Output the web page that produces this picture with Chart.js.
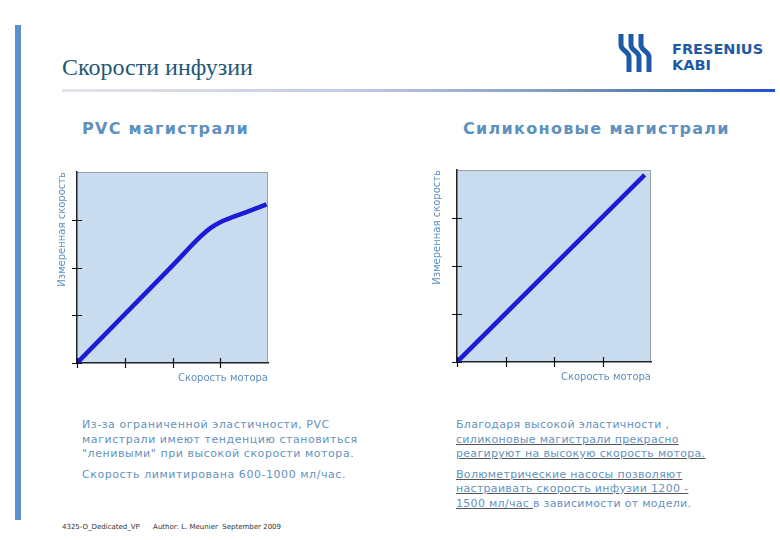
<!DOCTYPE html>
<html>
<head>
<meta charset="utf-8">
<script src="https://cdn.jsdelivr.net/npm/chart.js@4/dist/chart.umd.min.js"></script>
<style>
  body { margin: 0; width: 780px; height: 540px; background: #fff; position: relative; overflow: hidden; font-family: "DejaVu Sans", Verdana, sans-serif; }
  .abs { position: absolute; }
  #bar { left: 15px; top: 25px; width: 6px; height: 495px; background: #5a8fd0; }
  #title { left: 62px; top: 54px; font-family: "Liberation Serif", serif; font-size: 24px; color: #1f5878; }
  #rule { left: 62px; top: 89px; width: 713px; height: 3px;
          background: linear-gradient(to right, #e2e5ea, #c6cae2 40%, #8aa3c6 65%, #4a7aac 85%, #1f4fd8); }
  #logoText { left: 672px; top: 41px; font-family: "DejaVu Sans", sans-serif; font-weight: bold; font-size: 14.5px; line-height: 16px; color: #1e5aa8; letter-spacing: 0; }
  .head { font-weight: bold; font-size: 16px; color: #5e90c0; letter-spacing: 1.3px; top: 119px; }
  .txt { font-size: 11px; line-height: 14.5px; color: #6592bd; white-space: nowrap; }
  .txt p { margin: 0 0 6px 0; }
  .u { text-decoration: underline; text-decoration-color: #555; }
  #foot { left: 62px; top: 523px; font-size: 7px; color: #333; }
  canvas { position: absolute; }
</style>
</head>
<body>
<div id="bar" class="abs"></div>
<div id="title" class="abs">Скорости инфузии</div>
<div id="rule" class="abs"></div>

<svg class="abs" style="left:617px;top:34px" width="40" height="38" viewBox="0 0 40 38">
  <g fill="none" stroke="#1e5aa8" stroke-width="5">
    <path d="M4 0 V11 C4 17 12 17 12 23 V38"/>
    <path d="M14 0 V11 C14 17 22 17 22 23 V38"/>
    <path d="M24 0 V11 C24 17 32 17 32 23 V38"/>
  </g>
</svg>
<div id="logoText" class="abs">FRESENIUS<br>KABI</div>

<div class="abs head" style="left:82px">PVC магистрали</div>
<div class="abs head" style="left:463px">Силиконовые магистрали</div>

<canvas id="pvcChart" style="left:50px;top:160px" width="230" height="236"></canvas>
<canvas id="silChart" style="left:425px;top:158px" width="240" height="238"></canvas>

<div class="abs txt" style="left:82px;top:418px;letter-spacing:0.55px">
  <p>Из-за ограниченной эластичности, PVC<br>магистрали имеют тенденцию становиться<br>"ленивыми" при высокой скорости мотора.</p>
  <p>Скорость лимитирована 600-1000 мл/час.</p>
</div>
<div class="abs txt" style="left:456px;top:418px;letter-spacing:0.3px">
  <p>Благодаря высокой эластичности ,<br><span class="u">силиконовые магистрали прекрасно<br>реагируют на высокую скорость мотора.</span></p>
  <p><span class="u">Волюметрические насосы позволяют<br>настраивать скорость инфузии 1200 -<br>1500 мл/час </span>в зависимости от модели.</p>
</div>

<div id="foot" class="abs">4325-O_Dedicated_VP&nbsp;&nbsp;&nbsp;&nbsp;&nbsp;&nbsp;Author: L. Meunier&nbsp; September 2009</div>

<script>
const pvcSpeed = [0, 1, 2, 2.6, 2.8, 3, 3.3, 3.6, 3.97];
const pvcMeasured = [0, 1.02, 2.04, 2.66, 2.83, 2.95, 3.07, 3.18, 3.32];
const silSpeed = [0, 3.87];
const silMeasured = [0, 3.9];
const tickValues = [0, 1, 2, 3];

const xTitle = "Скорость мотора";
const yTitle = "Измеренная скорость";

// light blue plot area + thin grey frame
const plotBg = {
  id: "plotBg",
  beforeDraw(chart) {
    const { ctx, chartArea: a } = chart;
    ctx.save();
    ctx.fillStyle = "#c9dbee";
    ctx.fillRect(a.left, a.top, a.right - a.left, a.bottom - a.top);
    ctx.strokeStyle = "#9aa0a8";
    ctx.lineWidth = 1;
    ctx.beginPath();
    ctx.moveTo(a.left, a.top + 0.5);
    ctx.lineTo(a.right - 0.5, a.top + 0.5);
    ctx.lineTo(a.right - 0.5, a.bottom);
    ctx.stroke();
    ctx.restore();
  }
};

// tick marks that cross the axis line
const crossTicks = {
  id: "crossTicks",
  afterDraw(chart) {
    const { ctx, scales: { x, y } } = chart;
    ctx.save();
    ctx.strokeStyle = "#111";
    ctx.lineWidth = 1.2;
    ctx.beginPath();
    tickValues.forEach(v => {
      const px = Math.round(x.getPixelForValue(v)) + 0.5;
      ctx.moveTo(px, x.top - 5);
      ctx.lineTo(px, x.top + 5);
      const py = Math.round(y.getPixelForValue(v)) + 0.5;
      ctx.moveTo(y.right - 5, py);
      ctx.lineTo(y.right + 5, py);
    });
    ctx.stroke();
    ctx.restore();
  }
};

function makeChart(id, xs, ys, yWidth, xHeight, pad, xPadBottom) {
  const pts = xs.map((v, i) => ({ x: v, y: ys[i] }));
  return new Chart(document.getElementById(id), {
    type: "scatter",
    data: {
      datasets: [{
        data: pts,
        showLine: true,
        borderColor: "#1b1bd8",
        borderWidth: 4.5,
        pointRadius: 0,
        cubicInterpolationMode: "monotone"
      }]
    },
    options: {
      responsive: false,
      animation: false,
      layout: { padding: pad },
      plugins: { legend: { display: false }, tooltip: { enabled: false } },
      scales: {
        x: {
          min: 0, max: 4,
          ticks: { display: false, stepSize: 1 },
          grid: { display: false },
          border: { display: true, color: "#222", width: 1.5 },
          title: { display: true, text: xTitle, align: "end", color: "#5d8fbd",
                   font: { family: "DejaVu Sans", size: 10 }, padding: { bottom: xPadBottom } },
          afterFit(s) { s.height = xHeight; }
        },
        y: {
          min: 0, max: 4,
          ticks: { display: false, stepSize: 1 },
          grid: { display: false },
          border: { display: true, color: "#222", width: 1.5 },
          title: { display: true, text: yTitle, align: "end", color: "#5d8fbd",
                   font: { family: "DejaVu Sans", size: 10 }, padding: { top: 6 } },
          afterFit(s) { s.width = yWidth; }
        }
      }
    },
    plugins: [plotBg, crossTicks]
  });
}

makeChart("pvcChart", pvcSpeed, pvcMeasured, 27, 33, { top: 12, right: 12 }, 12);
makeChart("silChart", silSpeed, silMeasured, 32, 34, { top: 12, right: 14 }, 13);
</script>
</body>
</html>
